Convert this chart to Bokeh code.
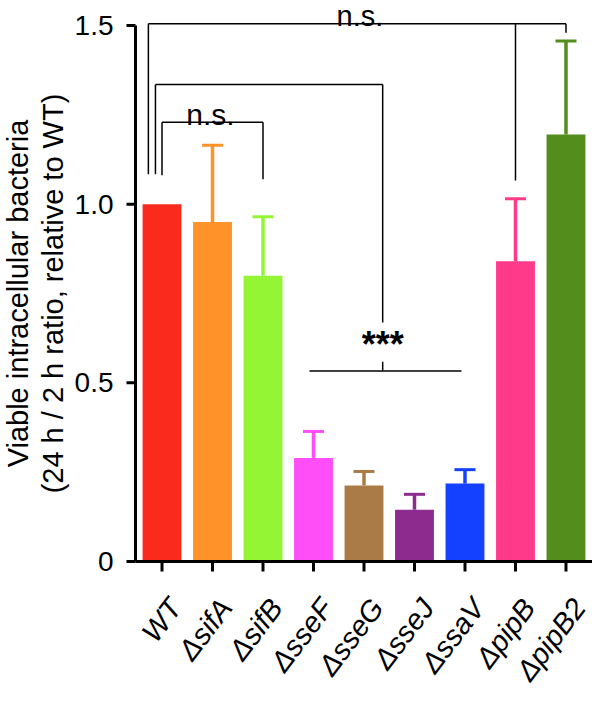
import math
from bokeh.plotting import figure
from bokeh.models import Range1d, ColumnDataSource
from bokeh.core.properties import value
from bokeh.embed import file_html
from bokeh.resources import INLINE

# ---- data ----
strains = ["WT", "\u0394sifA", "\u0394sifB", "\u0394sseF", "\u0394sseG",
           "\u0394sseJ", "\u0394ssaV", "\u0394pipB", "\u0394pipB2"]
means = [1.00, 0.95, 0.80, 0.29, 0.213, 0.145, 0.218, 0.84, 1.195]
upper = [1.00, 1.165, 0.965, 0.364, 0.252, 0.188, 0.257, 1.015, 1.457]
colors = ["#FA2B1C", "#FF9229", "#93F533", "#FF4DF8", "#AA7B47",
          "#8E2B8F", "#1341FF", "#FF3A8B", "#538D1B"]
y_ticks = [0, 0.5, 1.0, 1.5]
y_tick_labels = ["0", "0.5", "1.0", "1.5"]
y_title = "Viable intracellular bacteria\n(24 h / 2 h ratio, relative to WT)"

FONT = "Liberation Sans"
xs = list(range(len(strains)))

# ---- layout: one frame covering the whole canvas, axes drawn on its scales ----
W, H = 592, 690
AXIS_PX = 135                    # pixel column of the value axis
XA, X1 = -0.525, 8.525           # value-axis position .. right edge
px_x = (X1 - XA) / (W - AXIS_PX)  # data units per pixel
X0 = XA - AXIS_PX * px_x
Y0, Y1 = -0.361, 1.570
px_y = (Y1 - Y0) / H

p = figure(width=W, height=H, output_backend="svg", toolbar_location=None,
           x_range=Range1d(X0, X1), y_range=Range1d(Y0, Y1),
           x_axis_location=None, y_axis_location=None,
           min_border=0)
p.outline_line_color = None
p.xgrid.visible = False
p.ygrid.visible = False
p.background_fill_color = "white"

# bars
src = ColumnDataSource(dict(x=xs, top=means, color=colors))
p.vbar(x="x", top="top", width=0.77, bottom=0, fill_color="color",
       line_color=None, source=src)

# error bars (upper only)
keep = [i for i in xs if upper[i] > means[i]]
cap = 10.5 * px_x
esrc = ColumnDataSource(dict(
    x=[xs[i] for i in keep], m=[means[i] for i in keep],
    u=[upper[i] for i in keep], c=[colors[i] for i in keep],
    xl=[xs[i] - cap for i in keep], xr=[xs[i] + cap for i in keep]))
p.segment(x0="x", y0="m", x1="x", y1="u", line_color="c", line_width=3.5,
          source=esrc)
p.segment(x0="xl", y0="u", x1="xr", y1="u", line_color="c", line_width=3,
          source=esrc)

# category axis
p.segment(x0=[XA], y0=[0], x1=[X1], y1=[0], line_color="black", line_width=3)
p.segment(x0=xs, y0=[0] * len(xs), x1=xs, y1=[-10 * px_y] * len(xs),
          line_color="black", line_width=3)
p.text(x=[x + 0.5 * px_x for x in xs], y=[-31 * px_y] * len(xs), text=strains,
       angle=0.92, text_align="right", text_baseline="top",
       text_font=value(FONT), text_font_style="italic",
       text_font_size="29px", text_color="black")

# value axis
p.segment(x0=[XA], y0=[y_ticks[0]], x1=[XA], y1=[y_ticks[-1]],
          line_color="black", line_width=3)
p.segment(x0=[XA] * len(y_ticks), y0=y_ticks,
          x1=[XA - 9 * px_x] * len(y_ticks), y1=y_ticks,
          line_color="black", line_width=3)
p.text(x=[XA - 22 * px_x] * len(y_ticks), y=y_ticks, text=y_tick_labels,
       text_align="right", text_baseline="middle", text_font=value(FONT),
       text_font_size="28px", text_color="black")
p.text(x=[X0 + 35 * px_x], y=[(y_ticks[0] + y_ticks[-1]) / 2], text=[y_title],
       angle=math.pi / 2, text_align="center", text_baseline="middle",
       text_font=value(FONT), text_font_size="29px", text_color="black",
       text_line_height=1.1)

# significance brackets
def seg(x0, y0, x1, y1):
    p.segment(x0=[x0], y0=[y0], x1=[x1], y1=[y1], line_color="black",
              line_width=1.5)

iWT, iB, iF, iV, iP, iP2 = 0, 2, 3, 6, 7, 8
top_o = 1.505
seg(iWT - 0.27, 1.084, iWT - 0.27, top_o)
seg(iWT - 0.27, top_o, iP2, top_o)
seg(iP, top_o, iP, 1.066)
seg(iP2, top_o, iP2, 1.48)
top_m = 1.335
mid = 4.37
seg(iWT - 0.13, 1.084, iWT - 0.13, top_m)
seg(iWT - 0.13, top_m, mid, top_m)
seg(mid, top_m, mid, 0.669)
seg(iF - 0.08, 0.533, iV - 0.07, 0.533)
seg(mid, 0.533, mid, 0.559)
top_i = 1.229
seg(iWT, 1.081, iWT, top_i)
seg(iWT, top_i, iB, top_i)
seg(iB, top_i, iB, 1.07)

p.text(x=[3.92], y=[1.527], text=["n.s."], text_font=value(FONT),
       text_font_size="29px", text_align="center", text_baseline="alphabetic")
p.text(x=[0.96], y=[1.250], text=["n.s."], text_font=value(FONT),
       text_font_size="30px", text_align="center", text_baseline="alphabetic")
p.text(x=[mid], y=[0.607], text=["***"], text_font=value(FONT),
       text_font_size="36px", text_font_style="bold",
       text_align="center", text_baseline="middle")

open("out.html", "w").write(file_html(p, INLINE))
